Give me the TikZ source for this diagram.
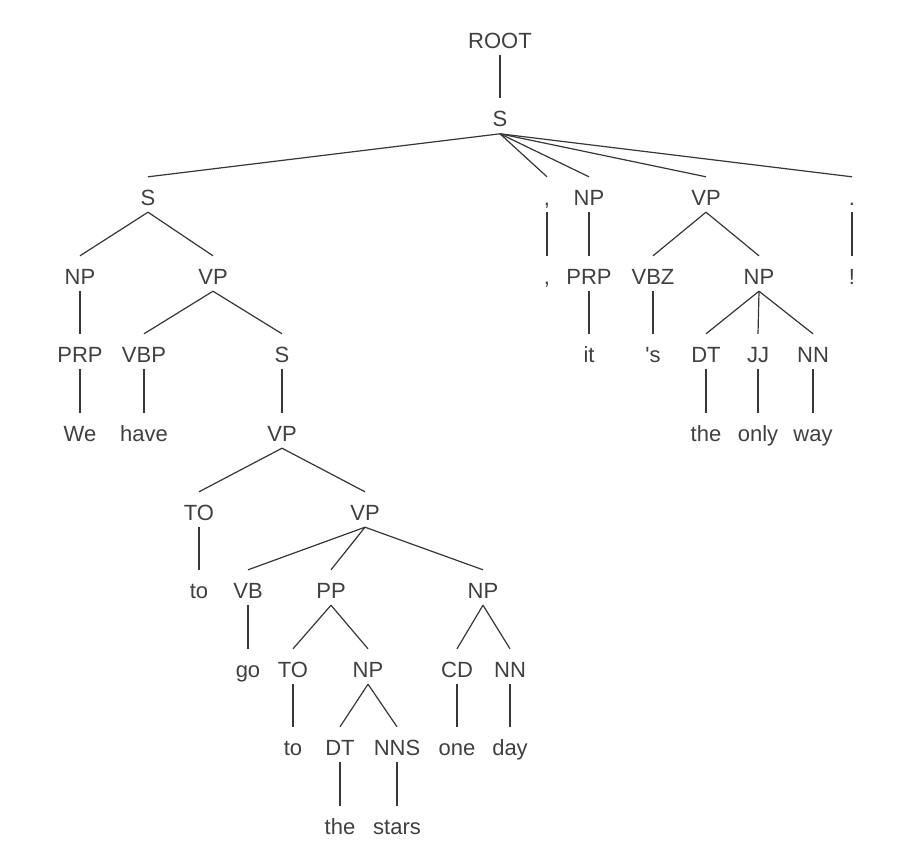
\documentclass[tikz,border=0pt]{standalone}
\usepackage{fontspec}
\newfontfamily\treefont{Liberation Sans}
\definecolor{ink}{RGB}{64,64,64}
\definecolor{edge}{RGB}{55,55,55}
\begin{document}
\begin{tikzpicture}[x=1bp,y=-1bp,
  lbl/.style={anchor=base,inner sep=0pt,text height=28bp,text depth=7bp,text=ink,font=\treefont\fontsize{22bp}{26bp}\selectfont},
  br/.style={draw=edge,line width=1.2bp}]
\useasboundingbox[fill=white] (0,0) rectangle (918,852);
% levels (baselines)
\def\La{48}\def\Lb{126.6}\def\Lc{205}\def\Ld{284}\def\Le{362}\def\Lf{441}
\def\Lg{520}\def\Lh{598}\def\Li{677}\def\Lj{755}\def\Lk{834}
\node[lbl] (root) at (500,\La) {ROOT};
\node[lbl] (s) at (500,\Lb) {S};
\node[lbl] (s1) at (148,\Lc) {S};
\node[lbl] (c1) at (547,\Lc) {,};
\node[lbl] (np1) at (589,\Lc) {NP};
\node[lbl] (vp1) at (706,\Lc) {VP};
\node[lbl] (p1) at (852,\Lc) {.};
\node[lbl] (np2) at (80,\Ld) {NP};
\node[lbl] (vp2) at (213,\Ld) {VP};
\node[lbl] (c2) at (547,\Ld) {,};
\node[lbl] (prp2) at (589,\Ld) {PRP};
\node[lbl] (vbz) at (653,\Ld) {VBZ};
\node[lbl] (np3) at (759,\Ld) {NP};
\node[lbl] (ex) at (852,\Ld) {!};
\node[lbl] (prp1) at (80,\Le) {PRP};
\node[lbl] (vbp) at (144,\Le) {VBP};
\node[lbl] (s2) at (282,\Le) {S};
\node[lbl] (it) at (589,\Le) {it};
\node[lbl] (aps) at (653,\Le) {'s};
\node[lbl] (dt1) at (706,\Le) {DT};
\node[lbl] (jj) at (758,\Le) {JJ};
\node[lbl] (nn1) at (813,\Le) {NN};
\node[lbl] (we) at (80,\Lf) {We};
\node[lbl] (have) at (144,\Lf) {have};
\node[lbl] (vp3) at (282,\Lf) {VP};
\node[lbl] (the1) at (706,\Lf) {the};
\node[lbl] (only) at (758,\Lf) {only};
\node[lbl] (way) at (813,\Lf) {way};
\node[lbl] (to1) at (199,\Lg) {TO};
\node[lbl] (vp4) at (365,\Lg) {VP};
\node[lbl] (to2) at (199,\Lh) {to};
\node[lbl] (vb) at (248,\Lh) {VB};
\node[lbl] (pp) at (331,\Lh) {PP};
\node[lbl] (np4) at (483,\Lh) {NP};
\node[lbl] (go) at (248,\Li) {go};
\node[lbl] (to3) at (293,\Li) {TO};
\node[lbl] (np5) at (368,\Li) {NP};
\node[lbl] (cd) at (457,\Li) {CD};
\node[lbl] (nn2) at (510,\Li) {NN};
\node[lbl] (to4) at (293,\Lj) {to};
\node[lbl] (dt2) at (340,\Lj) {DT};
\node[lbl] (nns) at (397,\Lj) {NNS};
\node[lbl] (one) at (457,\Lj) {one};
\node[lbl] (day) at (510,\Lj) {day};
\node[lbl] (the2) at (340,\Lk) {the};
\node[lbl] (stars) at (397,\Lk) {stars};
% edges
\foreach \p/\c in {root/s, s/s1, s/c1, s/np1, s/vp1, s/p1,
  s1/np2, s1/vp2, np2/prp1, prp1/we, vp2/vbp, vp2/s2, vbp/have, s2/vp3,
  vp3/to1, vp3/vp4, to1/to2, vp4/vb, vp4/pp, vp4/np4, vb/go,
  pp/to3, pp/np5, to3/to4, np5/dt2, np5/nns, dt2/the2, nns/stars,
  np4/cd, np4/nn2, cd/one, nn2/day,
  c1/c2, np1/prp2, prp2/it, vp1/vbz, vp1/np3, vbz/aps,
  np3/dt1, np3/jj, np3/nn1, dt1/the1, jj/only, nn1/way, p1/ex}
  \draw[br] (\p.south) -- (\c.north);
\end{tikzpicture}
\end{document}
